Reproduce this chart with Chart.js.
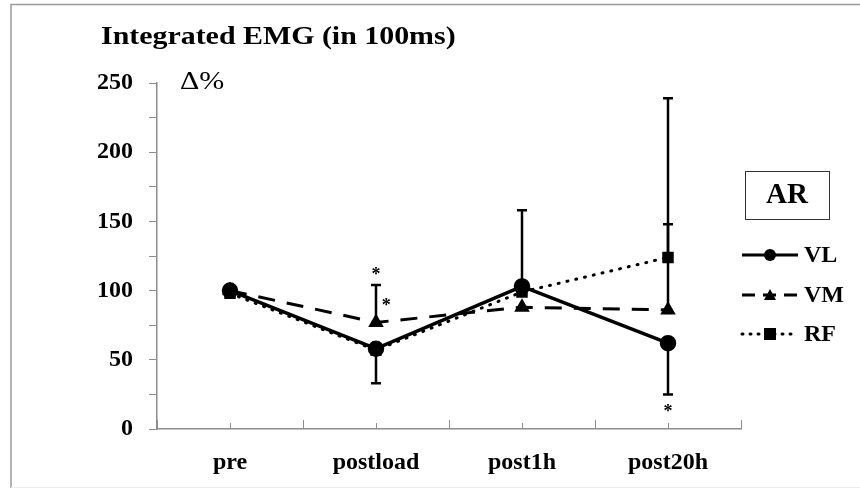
<!DOCTYPE html>
<html>
<head>
<meta charset="utf-8">
<script src="https://cdn.jsdelivr.net/npm/chart.js@4/dist/chart.umd.min.js"></script>
<style>
  html, body { margin: 0; padding: 0; background: #fff; }
  #wrap { width: 860px; height: 488px; position: relative; }
</style>
</head>
<body>
<div id="wrap"><canvas id="emgChart" width="860" height="488"></canvas></div>
<script>
var categories = ["pre", "postload", "post1h", "post20h"];
var vlValues = [100, 58, 103, 62];
var vmValues = [100, 77, 88, 86];
var rfValues = [98, 57, 99, 124];
// error bars: [category index, from value, to value]
var vlErrors = [[1, 58, 33], [2, 103, 158], [3, 62, 25]];
var vmErrors = [[1, 77, 104], [3, 86, 148]];
var rfErrors = [[3, 124, 239]];
// asterisks: [category index offset, value]
var starMarks = [[1, 113], [1.07, 91], [3, 14]];
var yTicks = [0, 50, 100, 150, 200, 250];

var serif = "'Liberation Serif', 'Times New Roman', serif";
var gray = "#8c8c8c";

function wideText(c, text, x, y, sx) {
  c.save();
  c.translate(x, y);
  c.scale(sx, 1);
  c.fillText(text, 0, 0);
  c.restore();
}

var extras = {
  id: "extras",
  beforeDraw: function (chart) {
    var c = chart.ctx;
    c.save();
    c.fillStyle = "#fff";
    c.fillRect(0, 0, chart.width, chart.height);
    c.strokeStyle = "#9a9a9a";
    c.lineWidth = 1.5;
    c.beginPath();
    c.moveTo(11, 488);
    c.lineTo(11, 4.5);
    c.lineTo(860, 4.5);
    c.stroke();
    c.strokeStyle = "#ececec";
    c.lineWidth = 1;
    c.beginPath();
    c.moveTo(11, 487.5);
    c.lineTo(860, 487.5);
    c.stroke();
    c.restore();
  },
  afterDatasetsDraw: function (chart) {
    var c = chart.ctx;
    var x = chart.scales.x, y = chart.scales.y;
    c.save();
    // x axis ticks pointing up
    c.strokeStyle = gray;
    c.lineWidth = 1;
    for (var i = 0; i <= categories.length * 2; i++) {
      var px = Math.round(x.getPixelForValue(-0.5 + i / 2)) + 0.5;
      var len = i % 2 === 0 ? 9 : 6;
      c.beginPath();
      c.moveTo(px, y.bottom);
      c.lineTo(px, y.bottom - len);
      c.stroke();
    }
    // error bars
    c.strokeStyle = "#000";
    c.lineWidth = 2.5;
    [vlErrors, vmErrors, rfErrors].forEach(function (set) {
      set.forEach(function (e) {
        var px = x.getPixelForValue(e[0]);
        var y1 = y.getPixelForValue(e[1]);
        var y2 = y.getPixelForValue(e[2]);
        c.beginPath();
        c.moveTo(px, y1);
        c.lineTo(px, y2);
        c.moveTo(px - 5, y2);
        c.lineTo(px + 5, y2);
        c.stroke();
      });
    });
    // asterisks
    c.fillStyle = "#000";
    c.font = "bold 18px " + serif;
    c.textAlign = "center";
    c.textBaseline = "middle";
    starMarks.forEach(function (s) {
      c.fillText("*", x.getPixelForValue(s[0]), y.getPixelForValue(s[1]) + 3);
    });
    c.restore();
  },
  afterDraw: function (chart) {
    var c = chart.ctx;
    c.save();
    c.fillStyle = "#000";
    c.textBaseline = "middle";
    c.font = "bold 26px " + serif;
    wideText(c, "Integrated EMG (in 100ms)", 101, 37, 1.15);
    c.font = "25px " + serif;
    wideText(c, "\u0394%", 180, 82, 1.2);

    // legend
    c.strokeStyle = "#333";
    c.lineWidth = 1;
    c.strokeRect(745.5, 171.5, 84, 48);
    c.font = "bold 29px " + serif;
    c.textAlign = "center";
    c.fillText("AR", 787, 196);
    c.textAlign = "left";
    c.font = "bold 24px " + serif;
    var items = [
      { name: "VL", y: 255, dash: [], marker: "circle" },
      { name: "VM", y: 295, dash: [13, 8], marker: "triangle" },
      { name: "RF", y: 334, dash: [1, 7], marker: "rect" }
    ];
    items.forEach(function (it) {
      c.strokeStyle = "#000";
      c.lineWidth = 3;
      c.setLineDash(it.dash);
      c.lineCap = it.marker === "rect" ? "round" : "butt";
      c.beginPath();
      c.moveTo(742, it.y);
      c.lineTo(798, it.y);
      c.stroke();
      c.setLineDash([]);
      c.beginPath();
      if (it.marker === "circle") {
        c.arc(770, it.y, 6, 0, Math.PI * 2);
      } else if (it.marker === "triangle") {
        c.moveTo(770, it.y - 6);
        c.lineTo(776, it.y + 5);
        c.lineTo(764, it.y + 5);
        c.closePath();
      } else {
        c.rect(764, it.y - 6, 12, 12);
      }
      c.fill();
      c.fillText(it.name, 804, it.y + 1);
    });
    c.restore();
  }
};

var ctx = document.getElementById("emgChart").getContext("2d");
var emgChart = new Chart(ctx, {
  type: "line",
  data: {
    labels: categories,
    datasets: [
      {
        label: "VL",
        data: vlValues,
        borderColor: "#000",
        backgroundColor: "#000",
        borderWidth: 3.5,
        pointStyle: "circle",
        pointRadius: 6.5,
        tension: 0
      },
      {
        label: "VM",
        data: vmValues,
        borderColor: "#000",
        backgroundColor: "#000",
        borderWidth: 3,
        borderDash: [17, 12],
        pointStyle: "triangle",
        pointRadius: 6,
        tension: 0
      },
      {
        label: "RF",
        data: rfValues,
        borderColor: "#000",
        backgroundColor: "#000",
        borderWidth: 3,
        borderDash: [1, 8],
        borderCapStyle: "round",
        pointStyle: "rect",
        pointRadius: 6,
        tension: 0
      }
    ]
  },
  options: {
    responsive: false,
    animation: false,
    layout: { padding: { left: 0, right: 119, top: 83, bottom: 0 } },
    plugins: {
      legend: { display: false },
      title: { display: false },
      tooltip: { enabled: false }
    },
    scales: {
      x: {
        type: "category",
        offset: true,
        grid: { display: false },
        border: { display: true, color: gray, width: 1.5 },
        ticks: {
          color: "#000",
          padding: 11,
          font: { family: serif, size: 24, weight: "bold" }
        },
        afterFit: function (scale) { scale.height = 59; }
      },
      y: {
        min: 0,
        max: 250,
        grid: {
          drawOnChartArea: false,
          drawTicks: true,
          tickLength: 8,
          color: gray
        },
        border: { display: true, color: gray, width: 1.5 },
        ticks: {
          stepSize: 25,
          color: "#000",
          padding: 16,
          font: { family: serif, size: 24, weight: "bold" },
          callback: function (v) { return yTicks.indexOf(v) >= 0 ? String(v) : ""; }
        },
        afterFit: function (scale) { scale.width = 157; }
      }
    }
  },
  plugins: [extras]
});
</script>
</body>
</html>
